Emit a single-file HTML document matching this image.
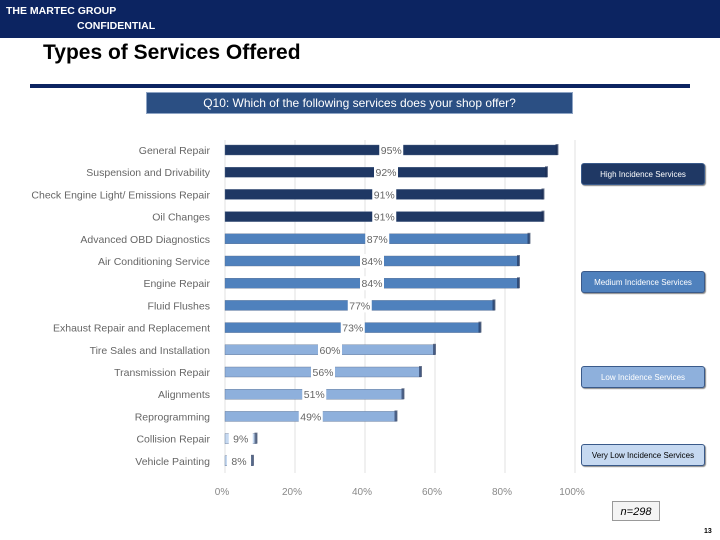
<!DOCTYPE html>
<html><head><meta charset="utf-8"><style>
body{margin:0;width:720px;height:540px;position:relative;overflow:hidden;background:#fff;font-family:"Liberation Sans",sans-serif}
.abs{position:absolute}
.box{position:absolute;left:581px;width:124px;height:22px;border:1px solid #3a5a8a;border-radius:3px;font-size:8px;text-align:center;line-height:22px;box-sizing:border-box;box-shadow:1px 1px 1px #888}
</style></head><body>
<div class="abs" style="left:0;top:0;width:720px;height:38px;background:#0c2461"></div>
<div class="abs" style="left:6px;top:5px;color:#fff;font-size:10.5px;font-weight:bold">THE MARTEC GROUP</div>
<div class="abs" style="left:77px;top:20px;color:#fff;font-size:10.5px;font-weight:bold">CONFIDENTIAL</div>
<div class="abs" style="left:43px;top:41px;font-size:21px;font-weight:bold;color:#000">Types of Services Offered</div>
<div class="abs" style="left:30px;top:84px;width:660px;height:4px;background:#0c2461"></div>
<div class="abs" style="left:146px;top:92px;width:427px;height:22px;background:#2b4f83;border:1px solid #8ea4c4;box-sizing:border-box;color:#fff;font-size:12px;text-align:center;line-height:20px">Q10: Which of the following services does your shop offer?</div>
<svg class="abs" style="left:0;top:0" width="720" height="540" id="chart"></svg>
<div class="box" style="top:163px;background:#1f3864;color:#fff">High Incidence Services</div>
<div class="box" style="top:271px;background:#4f81bd;color:#fff">Medium Incidence Services</div>
<div class="box" style="top:366px;background:#8eb0dc;color:#fff">Low Incidence Services</div>
<div class="box" style="top:444px;background:#c6d9f1;color:#000">Very Low Incidence Services</div>
<div class="abs" style="left:612px;top:501px;width:48px;height:20px;border:1px solid #999;background:#f4f4f4;font-size:11px;font-style:italic;text-align:center;line-height:20px;box-sizing:border-box">n=298</div>
<div class="abs" style="left:704px;top:528px;font-size:7px;font-weight:bold">13</div>
<script>
const categories=["General Repair","Suspension and Drivability","Check Engine Light/ Emissions Repair","Oil Changes","Advanced OBD Diagnostics","Air Conditioning Service","Engine Repair","Fluid Flushes","Exhaust Repair and Replacement","Tire Sales and Installation","Transmission Repair","Alignments","Reprogramming","Collision Repair","Vehicle Painting"];
const values=[95,92,91,91,87,84,84,77,73,60,56,51,49,9,8];
const groups=[0,0,0,0,1,1,1,1,1,2,2,2,2,3,3];
const tickLabels=["0%","20%","40%","60%","80%","100%"];
const colors=["#1f3864","#4f81bd","#8eb0dc","#c6d9f1"];
const svg=document.getElementById('chart');const NS="http://www.w3.org/2000/svg";
const x0=225,xw=350,y0=150,dy=22.2;
const xs=v=>x0+v/100*xw, ys=i=>y0+i*dy;
function mk(t,a,txt){const e=document.createElementNS(NS,t);for(const k in a)e.setAttribute(k,a[k]);if(txt!==undefined)e.textContent=txt;svg.appendChild(e);return e;}
tickLabels.forEach((t,i)=>{const x=xs(i*20);
const g=mk('line',{x1:x,y1:140,x2:x,y2:473,stroke:'#e2e2e2','stroke-width':1});

const l=mk('text',{x:x-3,y:495,'font-size':10,fill:'#888','text-anchor':'middle'},t);
});
categories.forEach((c,i)=>{const y=ys(i),v=values[i],xe=xs(v);
const cl=mk('text',{x:210,y:y+4,'font-size':10.5,fill:'#666','text-anchor':'end'},c);

const b=mk('rect',{x:x0,y:y-5,width:xe-x0,height:10,fill:colors[groups[i]],stroke:'#5a6f8f','stroke-width':0.4});

const s=mk('rect',{x:xe-2,y:y-6,width:3,height:11,fill:'#1a2c50',opacity:0.6});

const cx=(x0+xe)/2;
const bg=mk('rect',{x:cx-12,y:y-7,width:24,height:14,fill:'#fff'});

const vl=mk('text',{x:cx,y:y+4,'font-size':10.5,fill:'#666','text-anchor':'middle'},v+'%');
});
</script>
</body></html>
